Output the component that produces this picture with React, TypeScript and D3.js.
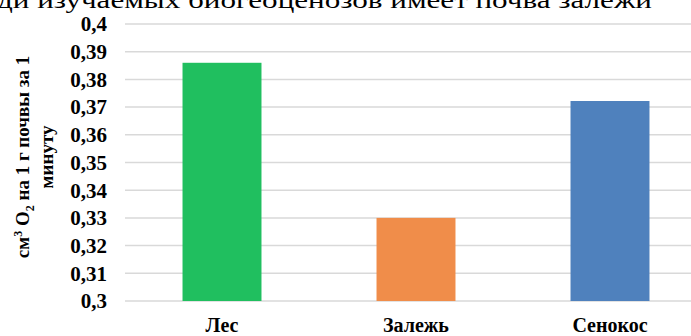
import React from "react";
import * as d3 from "d3";

const categories = ["Лес", "Залежь", "Сенокос"];
const values = [0.386, 0.33, 0.3722];
const colors = ["#20BF5F", "#F08D4A", "#4F81BD"];
const yTicks = [0.3, 0.31, 0.32, 0.33, 0.34, 0.35, 0.36, 0.37, 0.38, 0.39, 0.4];
const topText = "ди изучаемых биогеоценозов имеет почва залежи";

const W = 691;
const H = 336;
const left = 125;
const right = 707;
const top = 24;
const bottom = 301;

export default function App() {
  const x = d3.scaleBand<string>().domain(categories).range([left, right]).paddingInner(0.593).paddingOuter(0.2965);
  const y = d3.scaleLinear().domain([0.3, 0.4]).range([bottom, top]);
  const fmt = (v: number) => String(+v.toFixed(2)).replace(".", ",");
  const serif = { fontFamily: "'Liberation Serif', 'DejaVu Serif', serif" };
  return (
    <svg width={W} height={H} style={{ position: "absolute", left: 0, top: 0, background: "#fff" }}>
      <text x={-3} y={8} style={serif} fontSize={24} textLength={655} lengthAdjust="spacingAndGlyphs" fill="#000">{topText}</text>
      {yTicks.map((t) => (
        <g key={t}>
          <line x1={left} x2={W} y1={y(t)} y2={y(t)} stroke="#d9d9d9" strokeWidth={1.5} />
          <text x={107} y={y(t)} dy="0.35em" textAnchor="end" style={serif} fontSize={21} fontWeight="bold">{fmt(t)}</text>
        </g>
      ))}
      {categories.map((c, i) => (
        <rect key={c} x={x(c)} width={x.bandwidth()} y={y(values[i])} height={y(0.3) - y(values[i])} fill={colors[i]} />
      ))}
      {categories.map((c) => (
        <text key={c} x={(x(c) as number) + x.bandwidth() / 2} y={332} textAnchor="middle" style={serif} fontSize={20} fontWeight="bold">{c}</text>
      ))}
      <g transform={`translate(0, 157) rotate(-90)`} fontWeight="bold" fontSize={19} textAnchor="middle" style={serif}>
        <text x={0} y={29}>
          см<tspan dy={-7} fontSize={12}>3</tspan><tspan dy={7}> O</tspan><tspan dy={5} fontSize={12}>2</tspan><tspan dy={-5}> на 1 г почвы за 1</tspan>
        </text>
        <text x={0} y={53}>минуту</text>
      </g>
    </svg>
  );
}
